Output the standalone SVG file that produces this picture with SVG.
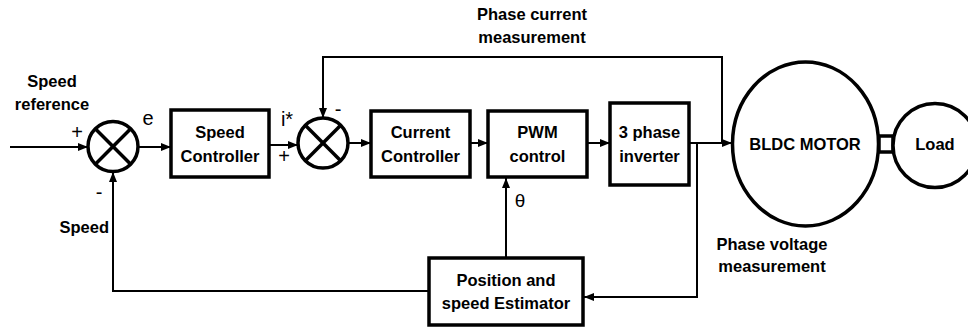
<svg xmlns="http://www.w3.org/2000/svg" width="968" height="329" viewBox="0 0 968 329">
<style>
.box{fill:#fff;stroke:#000;stroke-width:3.5}
.sum{fill:#fff;stroke:#000;stroke-width:3.5}
.x{stroke:#000;stroke-width:3.5}
.wire{fill:none;stroke:#000;stroke-width:2}
.b{font-family:"Liberation Sans",Arial,sans-serif;font-weight:bold;font-size:16.5px;fill:#000;text-anchor:middle}
.r{font-family:"Liberation Sans",Arial,sans-serif;font-size:20px;fill:#000;text-anchor:middle}
</style>
<defs>
<marker id="ah" viewBox="0 0 10 8" refX="10" refY="4" markerWidth="10" markerHeight="8" markerUnits="userSpaceOnUse" orient="auto">
<path d="M0,0 L10,4 L0,8 z" fill="#000"/>
</marker>
</defs>
<rect width="968" height="329" fill="#fff"/>
<g id="connectors">
<path class="wire" d="M10,147 H88" marker-end="url(#ah)"/>
<path class="wire" d="M138,147 H171" marker-end="url(#ah)"/>
<path class="wire" d="M269,145 H298" marker-end="url(#ah)"/>
<path class="wire" d="M348,143 H371" marker-end="url(#ah)"/>
<path class="wire" d="M470,143 H488" marker-end="url(#ah)"/>
<path class="wire" d="M587,143 H610" marker-end="url(#ah)"/>
<path class="wire" d="M689,143 H732" marker-end="url(#ah)"/>
<path class="wire" d="M722,143 V57 H323 V118" marker-end="url(#ah)"/>
<path class="wire" d="M697,143 V297 H584" marker-end="url(#ah)"/>
<path class="wire" d="M506,258 V178" marker-end="url(#ah)"/>
<path class="wire" d="M429,291 H113 V172" marker-end="url(#ah)"/>
</g>
<g id="sum1">
<circle class="sum" cx="113" cy="146.5" r="25"/>
<line class="x" x1="95.3" y1="128.8" x2="130.7" y2="164.2"/>
<line class="x" x1="130.7" y1="128.8" x2="95.3" y2="164.2"/>
</g>
<g id="sum2">
<circle class="sum" cx="323" cy="143" r="25"/>
<line class="x" x1="305.3" y1="125.3" x2="340.7" y2="160.7"/>
<line class="x" x1="340.7" y1="125.3" x2="305.3" y2="160.7"/>
</g>
<g id="speed-controller">
<rect class="box" x="171" y="110" width="98" height="67"/>
<text class="b" x="220" y="138">Speed</text>
<text class="b" x="220" y="162">Controller</text>
</g>
<g id="current-controller">
<rect class="box" x="371" y="111" width="99" height="66"/>
<text class="b" x="420.5" y="138">Current</text>
<text class="b" x="420.5" y="162">Controller</text>
</g>
<g id="pwm-control">
<rect class="box" x="488" y="111" width="99" height="66"/>
<text class="b" x="537.5" y="138">PWM</text>
<text class="b" x="537.5" y="162">control</text>
</g>
<g id="inverter">
<rect class="box" x="610" y="103" width="79" height="82"/>
<text class="b" x="649.5" y="138">3 phase</text>
<text class="b" x="649.5" y="162">inverter</text>
</g>
<g id="estimator">
<rect class="box" x="429" y="258" width="154" height="67"/>
<text class="b" x="506" y="286">Position and</text>
<text class="b" x="506" y="309">speed Estimator</text>
</g>
<g id="motor">
<ellipse class="box" cx="805.5" cy="144" rx="73" ry="82"/>
<text class="b" x="805" y="150">BLDC MOTOR</text>
</g>
<g id="coupling">
<rect class="box" x="879" y="136" width="14" height="16"/>
</g>
<g id="load">
<circle class="box" cx="935" cy="145.5" r="42"/>
<text class="b" x="935" y="150">Load</text>
</g>
<g id="labels">
<text class="b" x="52" y="87">Speed</text>
<text class="b" x="52" y="110">reference</text>
<text class="b" x="532" y="20">Phase current</text>
<text class="b" x="532" y="43">measurement</text>
<text class="b" x="772" y="250">Phase voltage</text>
<text class="b" x="772" y="272">measurement</text>
<text class="b" x="109" y="233" style="text-anchor:end">Speed</text>
<text class="r" x="77" y="139">+</text>
<text class="r" x="148" y="125">e</text>
<text class="r" x="99" y="199">-</text>
<text class="r" x="287" y="126">i*</text>
<text class="r" x="284" y="163">+</text>
<text class="r" x="338" y="116">-</text>
<text class="r" x="520" y="207" style="font-size:19px">θ</text>
</g>
</svg>
